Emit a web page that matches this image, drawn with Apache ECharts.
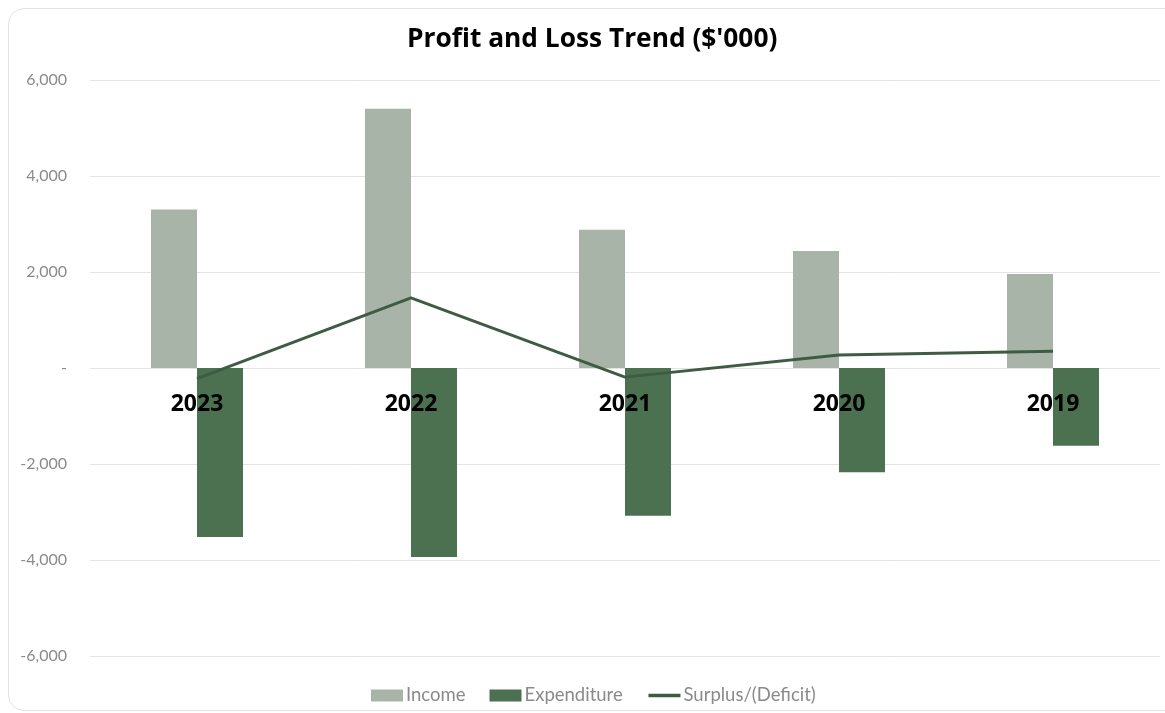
<!DOCTYPE html>
<html>
<head>
<meta charset="utf-8">
<script src="https://cdn.jsdelivr.net/npm/echarts@6/dist/echarts.min.js"></script>
<style>
html,body{margin:0;padding:0;background:#fff;width:1165px;height:713px;overflow:hidden;}
#frame{position:absolute;left:8px;top:8px;width:1175px;height:703px;border:1px solid #e2e2e2;border-radius:16px;box-sizing:border-box;}
#main{position:absolute;left:0;top:0;width:1165px;height:713px;}
</style>
</head>
<body>
<div id="frame"></div>
<div id="main"></div>
<script>
const categories = ['2023', '2022', '2021', '2020', '2019'];
const income = [3300, 5400, 2880, 2440, 1960];
const expenditure = [-3520, -3940, -3080, -2170, -1620];
const surplus = [-220, 1460, -190, 270, 350];
const yTicks = { min: -6000, max: 6000, interval: 2000 };

const FONT = 'Lato';
const chart = echarts.init(document.getElementById('main'), null, { renderer: 'canvas' });
chart.setOption({
  backgroundColor: 'transparent',
  animation: false,
  title: {
    text: "Profit and Loss Trend ($'000)",
    left: 402,
    top: 22,
    textStyle: { fontFamily: 'Open Sans', fontSize: 26.3, fontWeight: 'bold', color: '#000' }
  },
  grid: { left: 90, right: 5, top: 80, bottom: 57, containLabel: false },
  legend: {
    bottom: 3,
    left: 366,
    itemGap: 24,
    itemWidth: 32,
    itemHeight: 12,
    textStyle: { fontFamily: FONT, fontSize: 18.5, color: '#8a8a8a', padding: [0, 0, 0, -2] },
    data: [
      { name: 'Income', icon: 'rect' },
      { name: 'Expenditure', icon: 'rect' },
      { name: 'Surplus/(Deficit)', itemStyle: { opacity: 0 }, lineStyle: { width: 3.5 } }
    ]
  },
  xAxis: {
    type: 'category',
    data: categories,
    z: 10,
    offset: -288,
    axisLine: { show: false },
    axisTick: { show: false },
    axisLabel: { margin: 25, fontFamily: 'Open Sans', fontSize: 23, fontWeight: 'bold', color: '#000' }
  },
  yAxis: {
    type: 'value',
    min: yTicks.min,
    max: yTicks.max,
    interval: yTicks.interval,
    axisLine: { show: false },
    axisTick: { show: false },
    splitLine: { lineStyle: { color: '#e4e4e4', width: 1 } },
    axisLabel: {
      margin: 23,
      fontFamily: FONT,
      fontSize: 16,
      color: '#8a8a8a',
      formatter: v => v === 0 ? '-' : v.toLocaleString('en-US')
    }
  },
  series: [
    {
      name: 'Income', type: 'bar', data: income,
      barWidth: 46, barGap: '0%',
      itemStyle: { color: '#a9b4a9' }
    },
    {
      name: 'Expenditure', type: 'bar', data: expenditure,
      barWidth: 46, barGap: '0%',
      itemStyle: { color: '#4b7150' }
    },
    {
      name: 'Surplus/(Deficit)', type: 'line', data: surplus,
      symbol: 'none', z: 5,
      lineStyle: { color: '#3e5c43', width: 3 },
      itemStyle: { color: '#3e5c43' }
    }
  ]
});
</script>
</body>
</html>
